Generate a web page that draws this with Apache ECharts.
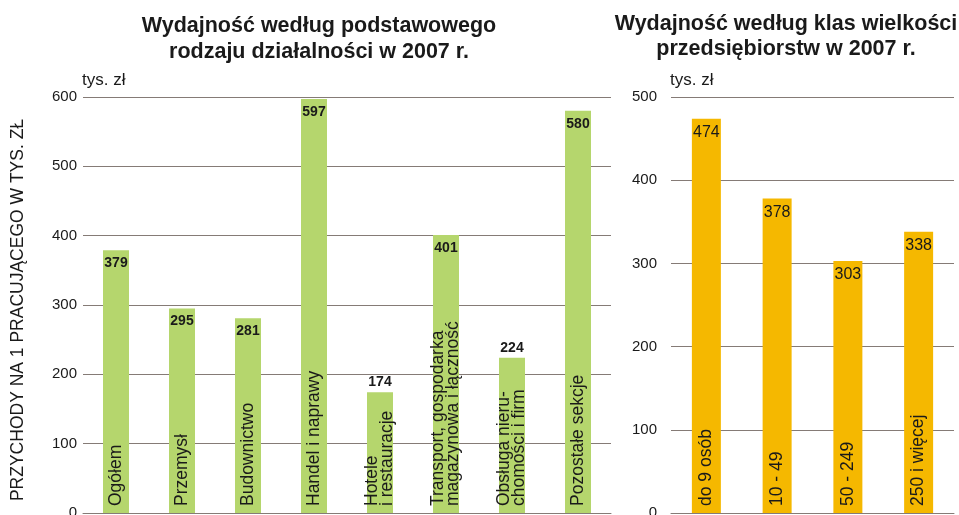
<!DOCTYPE html>
<html>
<head>
<meta charset="utf-8">
<script src="https://cdn.jsdelivr.net/npm/echarts@6/dist/echarts.min.js"></script>
<style>
html,body{margin:0;padding:0;background:#fff;}
#c{width:959px;height:515px;}
</style>
</head>
<body>
<div id="c"></div>
<script>
var leftCategories = ['Ogółem', 'Przemysł', 'Budownictwo', 'Handel i naprawy', 'Hotele\ni restauracje', 'Transport, gospodarka\nmagazynowa i łączność', 'Obsługa nieru-\nchomości i firm', 'Pozostałe sekcje'];
var leftValues = [379, 295, 281, 597, 174, 401, 224, 580];
var leftTicks = [0, 100, 200, 300, 400, 500, 600];

var rightCategories = ['do 9 osób', '10 - 49', '50 - 249', '250 i więcej'];
var rightValues = [474, 378, 303, 338];
var rightTicks = [0, 100, 200, 300, 400, 500];

var FONT = '"Liberation Sans", Arial, sans-serif';
var GREEN = '#b5d66d';
var ORANGE = '#f5b800';
var GRID = '#857b76';

var chart = echarts.init(document.getElementById('c'));

function valueItems(vals, bold) {
  return vals.map(function (v) {
    var outside = bold && v < 250;
    return {
      value: v,
      label: {
        position: outside ? 'top' : 'insideTop',
        distance: outside ? 3 : 6
      }
    };
  });
}

chart.setOption({
  animation: false,
  textStyle: { fontFamily: FONT },
  title: [
    { text: 'Wydajność według podstawowego\nrodzaju działalności w 2007 r.', left: 319, top: 13, padding: 0, textAlign: 'center',
      textStyle: { fontFamily: FONT, fontSize: 21.5, fontWeight: 'bold', color: '#1a1a1a', lineHeight: 26 } },
    { text: 'Wydajność według klas wielkości\nprzedsiębiorstw w 2007 r.', left: 786, top: 12, padding: 0, textAlign: 'center',
      textStyle: { fontFamily: FONT, fontSize: 21.5, fontWeight: 'bold', color: '#1a1a1a', lineHeight: 25 } },
    { text: 'tys. zł', left: 82, top: 72, padding: 0, textStyle: { fontFamily: FONT, fontSize: 17, fontWeight: 'normal', color: '#1a1a1a' } },
    { text: 'tys. zł', left: 670, top: 72, padding: 0, textStyle: { fontFamily: FONT, fontSize: 17, fontWeight: 'normal', color: '#1a1a1a' } }
  ],
  graphic: [
    { type: 'text', x: 18, y: 310, rotation: Math.PI / 2,
      style: { text: 'PRZYCHODY NA 1 PRACUJĄCEGO W TYS. ZŁ', fontFamily: FONT, fontSize: 17.5, fill: '#1a1a1a',
        align: 'center', verticalAlign: 'middle' } }
  ],
  grid: [
    { left: 83, right: 959 - 611, top: 97, bottom: 2, outerBoundsMode: 'none', containLabel: false },
    { left: 671, right: 959 - 954, top: 97, bottom: 2, outerBoundsMode: 'none', containLabel: false }
  ],
  xAxis: [
    { type: 'category', gridIndex: 0, data: leftCategories, axisLabel: { show: false }, axisTick: { show: false },
      axisLine: { show: true, lineStyle: { color: GRID, width: 1 } } },
    { type: 'category', gridIndex: 1, data: rightCategories, axisLabel: { show: false }, axisTick: { show: false },
      axisLine: { show: true, lineStyle: { color: GRID, width: 1 } } }
  ],
  yAxis: [
    { type: 'value', gridIndex: 0, min: leftTicks[0], max: leftTicks[leftTicks.length - 1], interval: 100,
      axisLine: { show: false }, axisTick: { show: false },
      splitLine: { lineStyle: { color: GRID, width: 1 } },
      axisLabel: { fontSize: 15, color: '#1a1a1a', margin: 6, fontFamily: FONT } },
    { type: 'value', gridIndex: 1, min: rightTicks[0], max: rightTicks[rightTicks.length - 1], interval: 100,
      axisLine: { show: false }, axisTick: { show: false },
      splitLine: { lineStyle: { color: GRID, width: 1 } },
      axisLabel: { fontSize: 15, color: '#1a1a1a', margin: 14, fontFamily: FONT } }
  ],
  series: [
    { type: 'bar', xAxisIndex: 0, yAxisIndex: 0, barWidth: 26, barGap: '-100%',
      itemStyle: { color: GREEN },
      label: { show: true, fontSize: 14, fontWeight: 'bold', color: '#1a1a1a', fontFamily: FONT },
      data: valueItems(leftValues, true) },
    { type: 'bar', xAxisIndex: 0, yAxisIndex: 0, barWidth: 26, barGap: '-100%', silent: true,
      itemStyle: { color: 'rgba(0,0,0,0)' },
      label: { show: true, position: 'insideBottom', distance: 7, rotate: 90, align: 'left', verticalAlign: 'middle',
        fontSize: 17.5, lineHeight: 15, color: '#1a1a1a', fontFamily: FONT,
        formatter: function (p) { return p.name; } },
      data: leftValues },
    { type: 'bar', xAxisIndex: 1, yAxisIndex: 1, barWidth: 29, barGap: '-100%',
      itemStyle: { color: ORANGE },
      label: { show: true, position: 'insideTop', distance: 7, fontSize: 16, color: '#1a1a1a', fontFamily: FONT },
      data: valueItems(rightValues, false) },
    { type: 'bar', xAxisIndex: 1, yAxisIndex: 1, barWidth: 29, barGap: '-100%', silent: true,
      itemStyle: { color: 'rgba(0,0,0,0)' },
      label: { show: true, position: 'insideBottom', distance: 7, rotate: 90, align: 'left', verticalAlign: 'middle',
        fontSize: 17.5, color: '#1a1a1a', fontFamily: FONT,
        formatter: function (p) { return p.name; } },
      data: rightValues }
  ]
});
</script>
</body>
</html>
